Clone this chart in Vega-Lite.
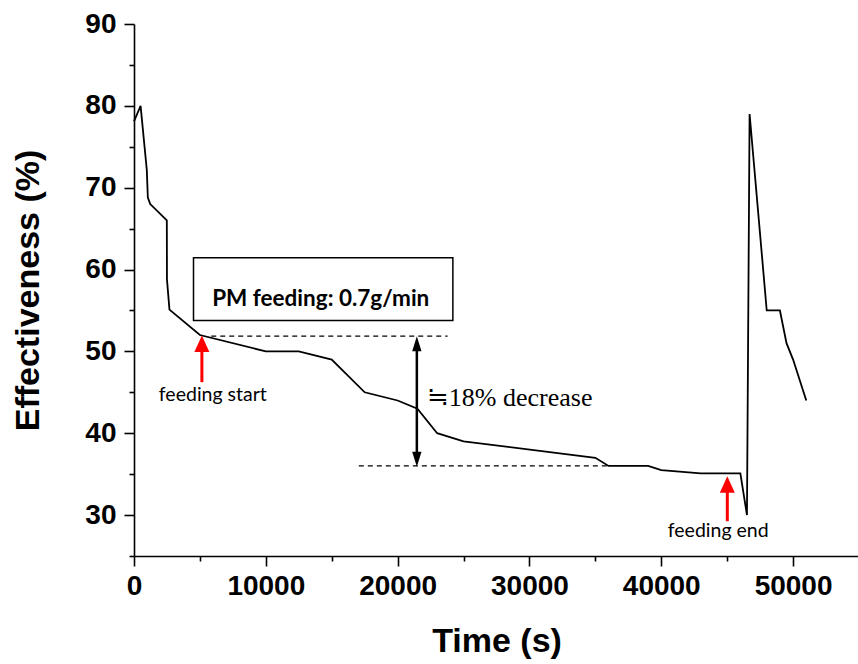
{
  "$schema": "https://vega.github.io/schema/vega-lite/v6.json",
  "width": 725,
  "height": 532,
  "autosize": "none",
  "padding": {"left": 134, "top": 24, "right": 0, "bottom": 108},
  "background": "white",
  "config": {
    "view": {"stroke": null},
    "axis": {
      "grid": false,
      "domainColor": "black",
      "domainWidth": 1.6,
      "tickColor": "black",
      "tickWidth": 1.6,
      "labelFont": "Liberation Sans",
      "labelFontWeight": "bold",
      "labelFontSize": 28,
      "labelColor": "black",
      "labelFlush": false,
      "labelOverlap": false,
      "titleFont": "Liberation Sans",
      "titleFontWeight": "bold",
      "titleFontSize": 34,
      "titleColor": "black"
    }
  },
  "encoding": {
    "x": {
      "field": "t",
      "type": "quantitative",
      "scale": {"domain": [0, 55000], "nice": false, "zero": false},
      "axis": {
        "title": "Time (s)",
        "values": [0, 5000, 10000, 15000, 20000, 25000, 30000, 35000, 40000, 45000, 50000],
        "format": "d",
        "labelExpr": "datum.value % 10000 === 0 ? datum.label : ''",
        "tickSize": {"condition": {"test": "datum.value % 10000 === 0", "value": 10}, "value": 5},
        "labelPadding": 6,
        "titleY": 95,
        "titleBaseline": "alphabetic"
      }
    },
    "y": {
      "field": "e",
      "type": "quantitative",
      "scale": {"domain": [25, 90], "nice": false, "zero": false},
      "axis": {
        "title": "Effectiveness (%)",
        "values": [25, 30, 35, 40, 45, 50, 55, 60, 65, 70, 75, 80, 85, 90],
        "labelExpr": "datum.value % 10 === 0 ? datum.label : ''",
        "tickSize": {"condition": {"test": "datum.value % 10 === 0", "value": 10}, "value": 5},
        "labelPadding": 8,
        "titleX": -96,
        "titleY": 266,
        "titleAngle": 270,
        "titleAlign": "center",
        "titleBaseline": "alphabetic"
      }
    }
  },
  "layer": [
    {
      "data": {"values": [
        {"t": 0, "e": 78.1},
        {"t": 500, "e": 80},
        {"t": 970, "e": 72.2},
        {"t": 1050, "e": 68.8},
        {"t": 1230, "e": 68},
        {"t": 2490, "e": 66},
        {"t": 2500, "e": 58.8},
        {"t": 2690, "e": 55.1},
        {"t": 5000, "e": 52},
        {"t": 10000, "e": 50},
        {"t": 12500, "e": 50},
        {"t": 15000, "e": 49},
        {"t": 17500, "e": 45},
        {"t": 20000, "e": 44},
        {"t": 21500, "e": 43},
        {"t": 23000, "e": 40},
        {"t": 25000, "e": 39},
        {"t": 35000, "e": 37},
        {"t": 36000, "e": 36},
        {"t": 39000, "e": 36},
        {"t": 40000, "e": 35.5},
        {"t": 43000, "e": 35.1},
        {"t": 46000, "e": 35.1},
        {"t": 46500, "e": 30},
        {"t": 46700, "e": 79},
        {"t": 48000, "e": 55},
        {"t": 49000, "e": 55},
        {"t": 49500, "e": 51},
        {"t": 50000, "e": 49},
        {"t": 51000, "e": 44}
      ]},
      "mark": {"type": "line", "color": "black", "strokeWidth": 1.8}
    },
    {
      "data": {"values": [
        {"t": 5860, "t2": 23790, "e": 51.86},
        {"t": 17056, "t2": 35920, "e": 36}
      ]},
      "mark": {"type": "rule", "color": "black", "strokeWidth": 1.2, "strokeDash": [5, 4]},
      "encoding": {"x2": {"field": "t2"}}
    },
    {
      "data": {"values": [{"t": 4514, "t2": 24190, "e": 61.44, "e2": 53.78}]},
      "mark": {"type": "rect", "fill": "white", "stroke": "black", "strokeWidth": 1.5},
      "encoding": {"x2": {"field": "t2"}, "y2": {"field": "e2"}}
    },
    {
      "data": {"values": [{"t": 14166, "e": 56.37, "label": "PM feeding: 0.7g/min"}]},
      "mark": {"type": "text", "font": "Lato", "fontWeight": "bold", "fontSize": 22.5, "color": "black", "align": "center", "baseline": "middle"},
      "encoding": {"text": {"field": "label"}}
    },
    {
      "data": {"values": [{"t": 21457, "e": 37.2, "e2": 50.6}]},
      "mark": {"type": "rule", "color": "black", "strokeWidth": 2.5},
      "encoding": {"y2": {"field": "e2"}}
    },
    {
      "data": {"values": [{"t": 21457, "e": 51.85}]},
      "mark": {"type": "point", "shape": "M0,0L-0.62,2L0.62,2Z", "filled": true, "color": "black", "opacity": 1, "size": 225, "strokeWidth": 0}
    },
    {
      "data": {"values": [{"t": 21457, "e": 35.9}]},
      "mark": {"type": "point", "shape": "M0,0L-0.62,-2L0.62,-2Z", "filled": true, "color": "black", "opacity": 1, "size": 225, "strokeWidth": 0}
    },
    {
      "data": {"values": [
        {"t": 5150, "e": 46.24, "e2": 50.4},
        {"t": 45010, "e": 29.25, "e2": 33.2}
      ]},
      "mark": {"type": "rule", "color": "#ff0000", "strokeWidth": 3},
      "encoding": {"y2": {"field": "e2"}}
    },
    {
      "data": {"values": [
        {"t": 5150, "e": 51.94},
        {"t": 45010, "e": 34.75}
      ]},
      "mark": {"type": "point", "shape": "M0,0L-1,2.2L1,2.2Z", "filled": true, "color": "#ff0000", "opacity": 1, "size": 225, "strokeWidth": 0}
    },
    {
      "data": {"values": [
        {"t": 5980, "e": 44.64, "label": "feeding start"},
        {"t": 44320, "e": 28.08, "label": "feeding end"}
      ]},
      "mark": {"type": "text", "font": "Lato", "fontSize": 19.5, "color": "black", "align": "center", "baseline": "middle"},
      "encoding": {"text": {"field": "label"}}
    },
    {
      "data": {"values": [{"t": 22215, "e": 44.25, "label": "≒18% decrease"}]},
      "mark": {"type": "text", "font": "Liberation Serif", "fontSize": 26, "color": "black", "align": "left", "baseline": "middle"},
      "encoding": {"text": {"field": "label"}}
    }
  ]
}
